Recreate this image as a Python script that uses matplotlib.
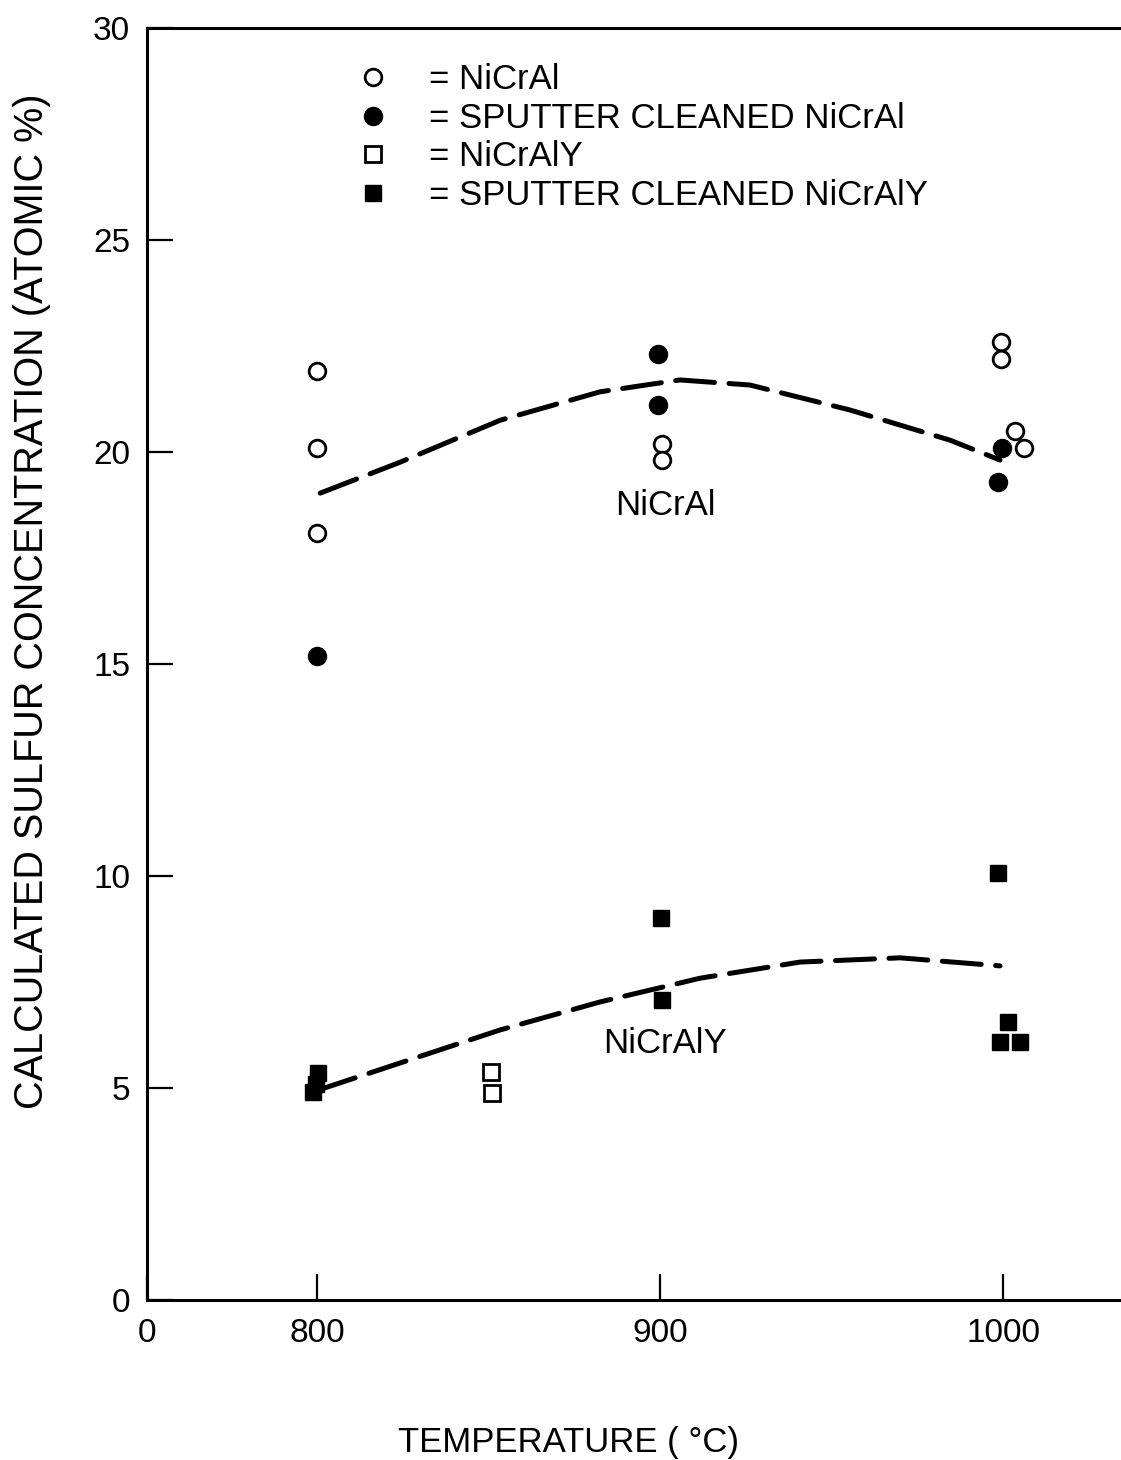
import numpy as np
import matplotlib
matplotlib.use("Agg")
from matplotlib import pyplot as plt

plt.rcParams['font.family'] = ['Liberation Sans', 'DejaVu Sans']

# open circles: NiCrAl
nicral_x = [800, 800, 800, 900.5, 900.5, 999.3, 999.3, 1003.5, 1006]
nicral_y = [21.9, 20.1, 18.1, 20.2, 19.8, 22.6, 22.2, 20.5, 20.1]

# filled circles: sputter cleaned NiCrAl
sc_nicral_x = [800, 899.5, 899.5, 999.8, 998.5]
sc_nicral_y = [15.2, 22.3, 21.1, 20.1, 19.3]

# open squares: NiCrAlY
nicraly_x = [850.7, 851]
nicraly_y = [5.38, 4.88]

# filled squares: sputter cleaned NiCrAlY
sc_nicraly_x = [798.8, 800.3, 799.7, 900.3, 900.5, 998.5, 1001.5, 999, 1005]
sc_nicraly_y = [4.9, 5.35, 5.1, 9.0, 7.07, 10.07, 6.56, 6.08, 6.08]

# hand drawn trend curves
upper_x = [800.9, 824.2, 853.4, 882.5, 905.8, 926.2, 955.4, 984.5, 999.1]
upper_y = [19.03, 19.76, 20.75, 21.42, 21.70, 21.58, 20.99, 20.28, 19.81]
lower_x = [800.3, 824.2, 853.4, 882.5, 911.7, 940.8, 970.0, 999.1]
lower_y = [4.95, 5.59, 6.37, 7.03, 7.59, 7.97, 8.07, 7.88]

x_ticks = [750.4, 800, 900, 1000]
x_labels = ['0', '800', '900', '1000']
y_ticks = [0, 5, 10, 15, 20, 25, 30]

def main():
    fig = plt.figure(figsize=(11.21, 14.6), dpi=100)
    ax = fig.add_axes([0.1311, 0.1096, 0.869, 0.8712])

    dash = (0, (7.8, 2.9))
    ax.plot(upper_x, upper_y, color='black', lw=3.6, linestyle=dash,
            dash_capstyle='round')
    ax.plot(lower_x, lower_y, color='black', lw=3.6, linestyle=dash,
            dash_capstyle='round')

    ax.plot(nicral_x, nicral_y, 'o', ms=12, mfc='white', mec='black', mew=2,
            ls='none', label='= NiCrAl')
    ax.plot(sc_nicral_x, sc_nicral_y, 'o', ms=13, mfc='black', mec='black',
            ls='none', label='= SPUTTER CLEANED NiCrAl')
    ax.plot(nicraly_x, nicraly_y, 's', ms=11, mfc='white', mec='black', mew=2,
            ls='none', label='= NiCrAlY')
    ax.plot(sc_nicraly_x, sc_nicraly_y, 's', ms=12, mfc='black', mec='black',
            ls='none', label='= SPUTTER CLEANED NiCrAlY')

    ax.text(901.5, 18.75, 'NiCrAl', fontsize=25, ha='center', va='center')
    ax.text(901.5, 6.06, 'NiCrAlY', fontsize=25, ha='center', va='center')

    ax.set_xlim(750.4, 1034.4)
    ax.set_ylim(0, 30)
    ax.set_xticks(x_ticks)
    ax.set_xticklabels(x_labels)
    ax.set_yticks(y_ticks)
    ax.tick_params(direction='in', length=19, width=1.6, labelsize=24)
    ax.tick_params(axis='x', pad=13)
    ax.tick_params(axis='y', pad=12)
    for s in ['left', 'bottom', 'top']:
        ax.spines[s].set_linewidth(2.2)
    ax.spines['right'].set_visible(False)

    ax.set_ylabel('CALCULATED SULFUR CONCENTRATION (ATOMIC %)', fontsize=28.5)
    ax.yaxis.set_label_coords(-0.099, 0.549)
    ax.set_xlabel('TEMPERATURE ( °C)', fontsize=25)
    ax.xaxis.set_label_coords(0.433, -0.099)

    ax.legend(loc='upper left', bbox_to_anchor=(0.1825, 0.997), frameon=False,
              fontsize=25, handlelength=1.0, handletextpad=1.1,
              labelspacing=0.16, numpoints=1)

    fig.savefig('out.png', dpi=100)

main()
